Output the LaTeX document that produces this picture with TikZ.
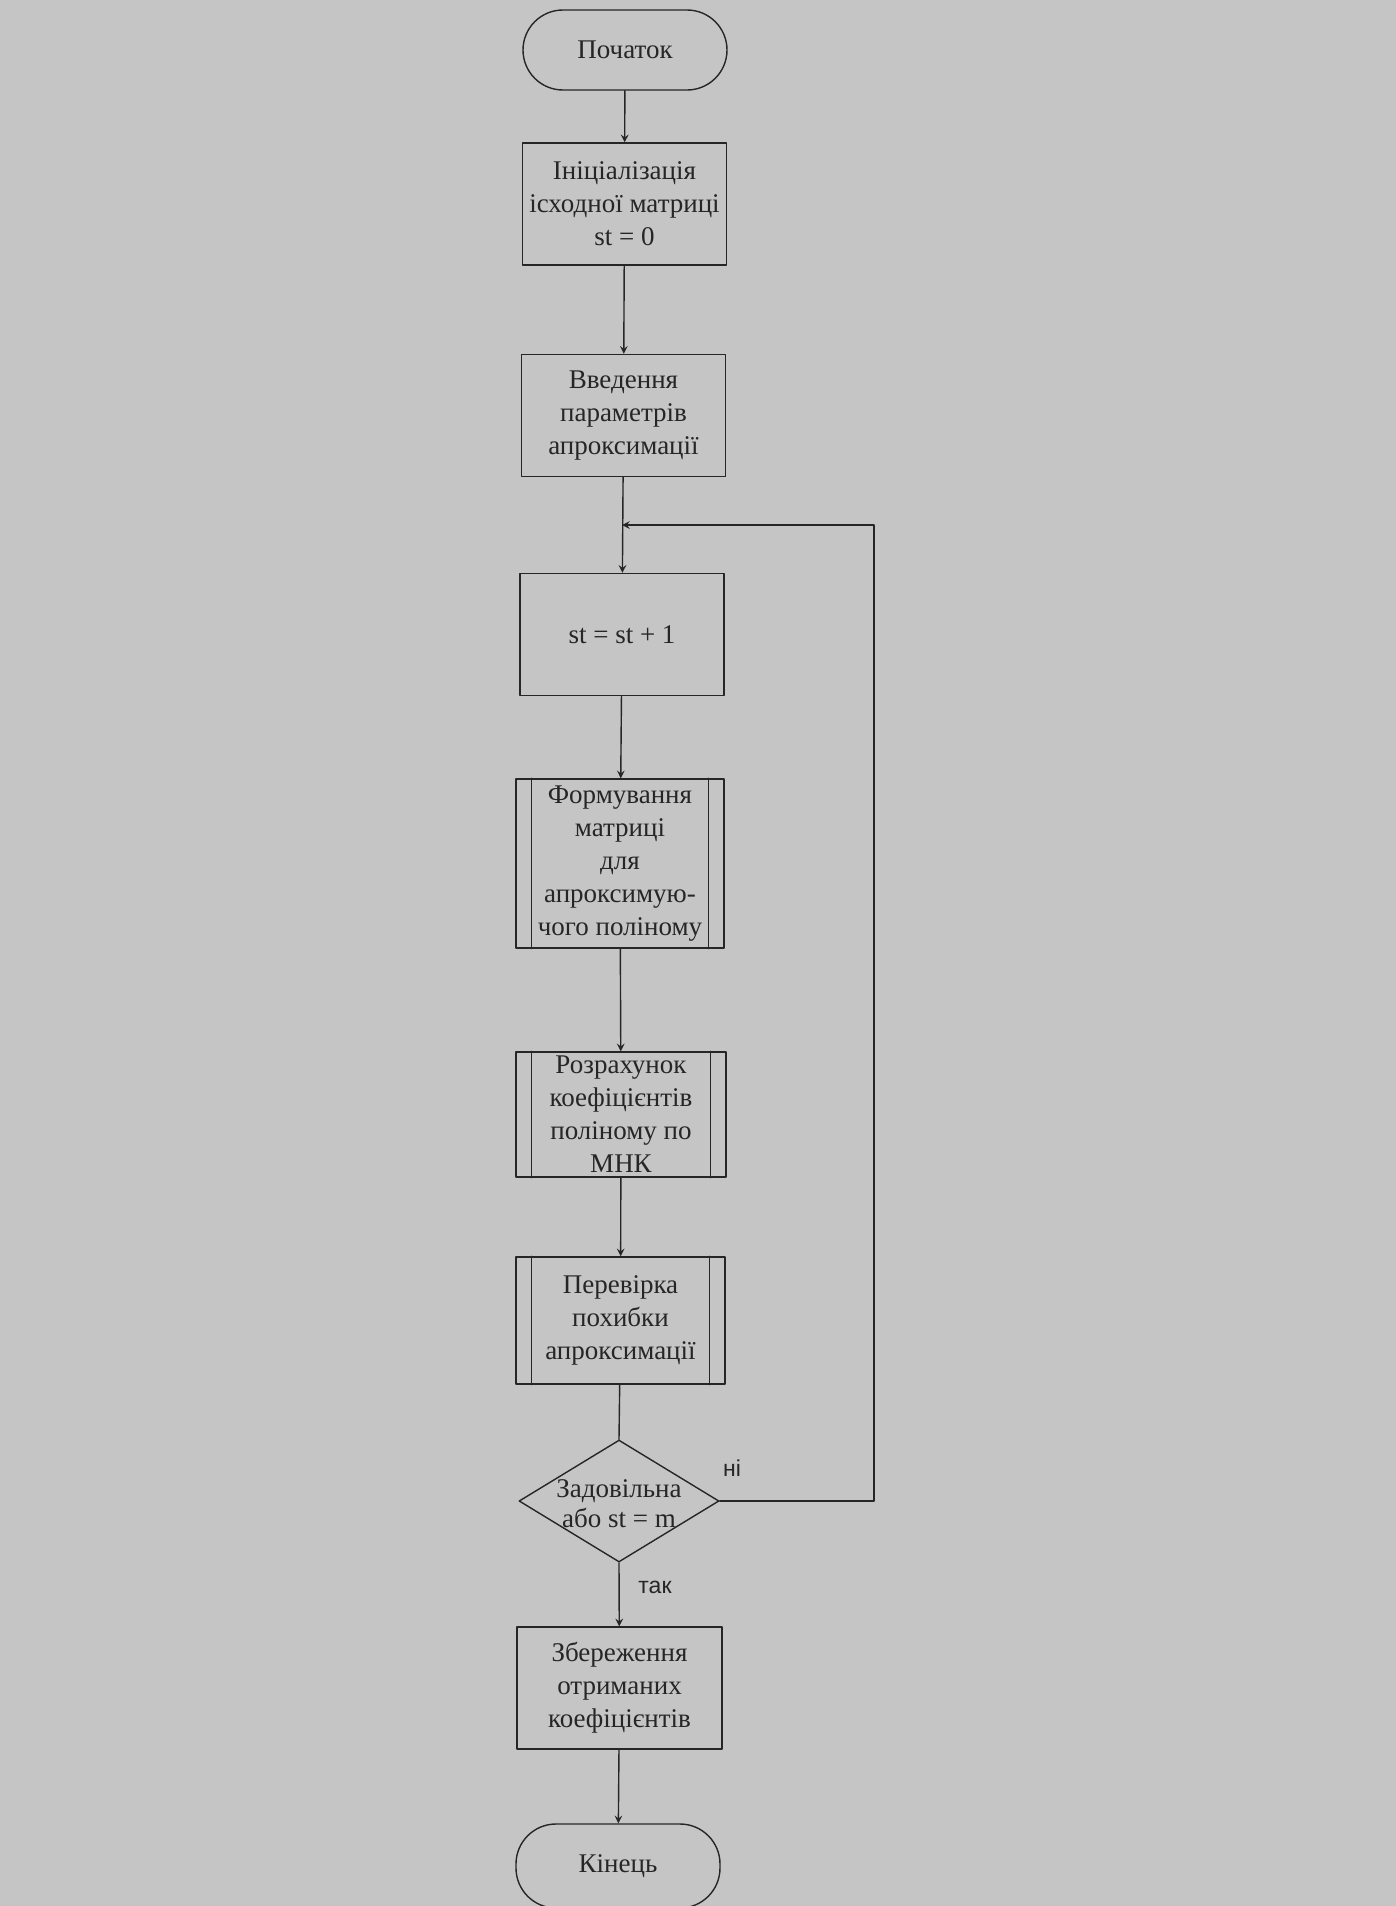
\documentclass[tikz,border=0pt]{standalone}
\usepackage{fontspec}
\setmainfont{Liberation Serif}
\newfontfamily\labfont{Liberation Sans}
\usetikzlibrary{shapes.geometric}
\definecolor{paper}{RGB}{197,197,197}
\definecolor{ink}{RGB}{38,38,38}
\tikzset{
  blok/.style={draw=ink, line width=.7pt, text=ink, align=center, inner sep=0pt,
    minimum width=102pt, minimum height=61pt},
  pidprog/.style={blok},
  termin/.style={blok, rounded corners=20pt, minimum height=40pt},
  umova/.style={draw=ink, line width=.7pt, diamond, inner sep=0pt,
    minimum width=100pt, minimum height=61pt},
  mitka/.style={font=\labfont\fontsize{11.5}{13}\selectfont, text=ink}
}
\begin{document}
\begin{tikzpicture}[x=.5pt, y=-.5pt, font=\fontsize{13.5}{16.5}\selectfont, line join=round, line cap=round, >=stealth]
	\def\vx{874}
	\def\vy{525}
	% tlo skanu
	\fill[paper] (0,0) rectangle (1396,1906);
	\useasboundingbox (0,0) rectangle (1396,1906);
	
	\node[termin] (pochatok) at (625,50) {Початок};
	\node[blok] (init) at (624.5,204) {Ініціалізація\\ісходної матриці\\st = 0};
	\node[blok] (vvedennya) at (623.5,415.5) {Введення\\параметрів\\апроксимації};
	\node[blok] (krok) at (622,634.5) {st = st + 1};
	\node[pidprog, minimum width=104pt, minimum height=84.5pt] (matr) at (620,863.5)
		{Формування\\матриці\\для\\апроксимую-\\чого поліному};
	\node[pidprog, minimum width=105pt, minimum height=62.5pt] (rozr) at (621,1114.5)
		{Розрахунок\\коефіцієнтів\\поліному по\\МНК};
	\node[pidprog, minimum width=104.5pt, minimum height=63.5pt] (perev) at (620.5,1320.5)
		{Перевірка\\похибки\\апроксимації};
	\node[umova] (umova) at (619,1501) {};
	\node[text=ink, align=center, font=\fontsize{13.5}{15}\selectfont] (umovatxt) at (619,1504) {Задовільна\\або st = m};
	\node[blok, minimum width=102.5pt] (zber) at (619.5,1688) {Збереження\\отриманих\\коефіцієнтів};
	\node[termin, minimum height=42pt] (kinec) at (618,1866) {Кінець};
	
	% bichni linii pidprogram
	\foreach \n in {matr,rozr,perev}{
		\draw[ink, line width=.7pt] ([xshift=8pt]\n.north west)--([xshift=8pt]\n.south west)
			([xshift=-8pt]\n.north east)--([xshift=-8pt]\n.south east);
	}
	
	\begin{scope}[draw=ink, line width=.7pt]
		\draw[->] (pochatok)--(init);
		\draw[->] (init)--(vvedennya);
		\draw[->] (vvedennya)--(krok);
		\draw[->] (krok)--(matr);
		\draw[->] (matr)--(rozr);
		\draw[->] (rozr)--(perev);
		\draw (perev)--(umova.north);
		\draw[->] (umova.south)--(zber);
		\draw[->] (zber)--(kinec);
		% cykl
		\coordinate (povern) at (622,\vy);
		\draw[->] (umova.east)--(\vx,1501)--(\vx,\vy)--(povern);
	\end{scope}
	
	\node[mitka] (ni) at (732,1468) {ні};
	\node[mitka] (tak) at (655,1587) {так};
\end{tikzpicture}
\end{document}
